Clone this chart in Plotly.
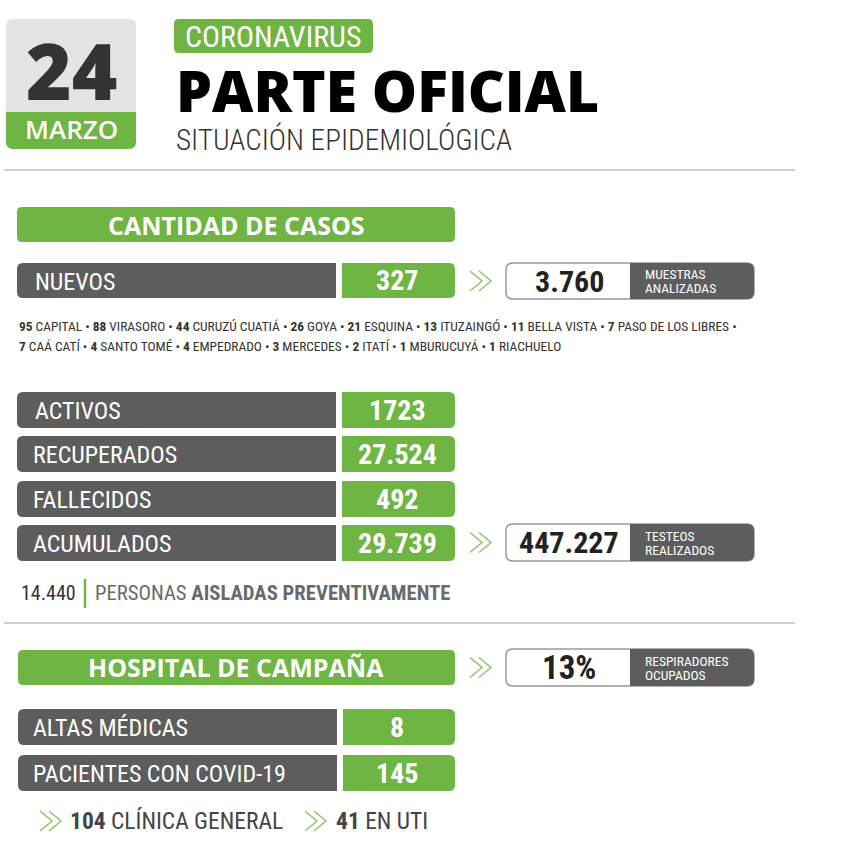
import plotly.graph_objects as go

# Daily COVID report card, drawn on an 860x860 pixel-like axis

GREEN = "#6fb543"
DARK = "#5d5d5d"
NARROW = "Roboto Condensed, Open Sans Condensed, DejaVu Sans Condensed, Roboto"

day = "24"
month = "MARZO"
tag = "CORONAVIRUS"
title = "PARTE OFICIAL"
subtitle = "SITUACIÓN EPIDEMIOLÓGICA"

cases_header = "CANTIDAD DE CASOS"
hospital_header = "HOSPITAL DE CAMPAÑA"

new_label = "NUEVOS"
new_value = "327"
samples_value = "3.760"
samples_label = ["MUESTRAS", "ANALIZADAS"]

towns_line1 = [
    ("95", "CAPITAL"), ("88", "VIRASORO"), ("44", "CURUZÚ CUATIÁ"), ("26", "GOYA"),
    ("21", "ESQUINA"), ("13", "ITUZAINGÓ"), ("11", "BELLA VISTA"), ("7", "PASO DE LOS LIBRES"),
]
towns_line2 = [
    ("7", "CAÁ CATÍ"), ("4", "SANTO TOMÉ"), ("4", "EMPEDRADO"), ("3", "MERCEDES"),
    ("2", "ITATÍ"), ("1", "MBURUCUYÁ"), ("1", "RIACHUELO"),
]

stat_labels = ["ACTIVOS", "RECUPERADOS", "FALLECIDOS", "ACUMULADOS"]
stat_values = ["1723", "27.524", "492", "29.739"]
tests_value = "447.227"
tests_label = ["TESTEOS", "REALIZADOS"]

isolated_value = "14.440"
isolated_text = "PERSONAS"
isolated_bold = "AISLADAS PREVENTIVAMENTE"

respirators_value = "13%"
respirators_label = ["RESPIRADORES", "OCUPADOS"]

hospital_labels = ["ALTAS MÉDICAS", "PACIENTES CON COVID-19"]
hospital_values = ["8", "145"]

general_value = "104"
general_text = "CLÍNICA GENERAL"
uti_value = "41"
uti_text = "EN UTI"

shapes = []
notes = []


def rrect(x0, y0, x1, y1, fill, r=(5, 5, 5, 5), line=None):
    tl, tr, br, bl = r
    path = (
        f"M {x0 + tl} {y0} L {x1 - tr} {y0} Q {x1} {y0} {x1} {y0 + tr} "
        f"L {x1} {y1 - br} Q {x1} {y1} {x1 - br} {y1} "
        f"L {x0 + bl} {y1} Q {x0} {y1} {x0} {y1 - bl} "
        f"L {x0} {y0 + tl} Q {x0} {y0} {x0 + tl} {y0} Z"
    )
    shapes.append(dict(type="path", path=path, fillcolor=fill,
                       line=dict(color=line or fill, width=1.5 if line else 0)))


def text(x, y, s, size, color="#ffffff", anchor="center", font=NARROW, weight=None):
    # annotations carry about 2px of padding on the left
    if anchor == "left":
        x -= 2
    f = dict(family=font, size=size, color=color)
    if weight:
        f["weight"] = weight
    notes.append(dict(x=x, y=y, text=s, showarrow=False, xanchor=anchor,
                      yanchor="middle", align="left", font=f))


def chevrons(x, y):
    for dx in (0, 9):
        shapes.append(dict(type="path",
                           path=f"M {x + dx} {y - 10} L {x + dx + 12} {y} L {x + dx} {y + 10}",
                           line=dict(color="#8cc468", width=1.5)))


def rule(y):
    shapes.append(dict(type="line", x0=4, x1=795, y0=y, y1=y, line=dict(color="#cfcfcf", width=2)))


def stat_row(x0, y0, h, label, value, label_x, gap_x=336, green_x=342):
    rrect(x0, y0, gap_x, y0 + h, DARK, r=(6, 0, 0, 6))
    rrect(green_x, y0, 455, y0 + h, GREEN, r=(0, 6, 6, 0))
    text(label_x, y0 + h / 2 + 1, label, 24, anchor="left")
    text(397, y0 + h / 2, value, 28, weight=700)


def side_box(y0, y1, value, label, size=30):
    mid = (y0 + y1) / 2
    rrect(506, y0, 754, y1, "#ffffff", r=(7, 7, 7, 7), line="#9a9a9a")
    rrect(630, y0, 754, y1, DARK, r=(0, 7, 7, 0))
    text(569, mid, value, size, color="#222222", weight=700)
    text(645, mid - 7, label[0], 13.5, anchor="left")
    text(645, mid + 7, label[1], 13.5, anchor="left")
    chevrons(470, mid)


def towns(items):
    return " • ".join(f"<b>{n}</b> {name}" for n, name in items)


# header
rrect(6, 19, 136, 116, "#e4e4e4", r=(7, 7, 0, 0))
rrect(6, 112, 136, 149, GREEN, r=(0, 0, 7, 7))
text(71, 70, day, 78, color="#333333", font="Open Sans", weight=800)
text(71, 129, month, 26, font="Open Sans", weight=600)
rrect(174, 19, 373, 53, GREEN)
text(273, 36, tag, 30)
text(176, 90, title, 57, color="#000000", anchor="left", font="Open Sans", weight=800)
text(176, 139, subtitle, 29.2, color="#333333", anchor="left", weight=300)
rule(170)

# cases
rrect(17, 207, 455, 242, GREEN)
text(236, 225, cases_header, 25, font="Open Sans", weight=700)
stat_row(17, 263, 35, new_label, new_value, 35)
side_box(263, 299, samples_value, samples_label)
text(19, 326, towns(towns_line1) + " •", 13.4, color="#333333", anchor="left")
text(19, 346, towns(towns_line2), 13.4, color="#333333", anchor="left")

row_tops = [392, 436, 481, 525]
label_xs = [35, 33, 33, 33]
for top, lab, val, lx in zip(row_tops, stat_labels, stat_values, label_xs):
    stat_row(17, top, 36, lab, val, lx)
side_box(524, 561, tests_value, tests_label)

text(21, 593, isolated_value, 20, color="#333333", anchor="left")
shapes.append(dict(type="line", x0=85, x1=85, y0=579, y1=608, line=dict(color=GREEN, width=2.5)))
text(95, 593, f"{isolated_text} <b>{isolated_bold}</b>", 20.7, color="#6a6a6a", anchor="left")
rule(623)

# hospital
rrect(18, 650, 455, 685, GREEN)
text(236, 667, hospital_header, 25, font="Open Sans", weight=700)
side_box(649, 686, respirators_value, respirators_label, size=33)
hospital_tops = [709, 755]
for top, lab, val in zip(hospital_tops, hospital_labels, hospital_values):
    stat_row(18, top, 36, lab, val, 33, gap_x=337, green_x=343)

chevrons(40, 821)
text(70, 821, f"<b>{general_value}</b> {general_text}", 23.5, color="#444444", anchor="left")
chevrons(305, 821)
text(336, 821, f"<b>{uti_value}</b> {uti_text}", 23.5, color="#444444", anchor="left")

fig = go.Figure()
fig.update_layout(
    width=860,
    height=860,
    margin=dict(l=0, r=0, t=0, b=0),
    paper_bgcolor="#ffffff",
    plot_bgcolor="#ffffff",
    xaxis=dict(range=[0, 860], visible=False, fixedrange=True),
    yaxis=dict(range=[860, 0], visible=False, fixedrange=True),
    shapes=shapes,
    annotations=notes,
    showlegend=False,
)
# drop the browser's default body margin so the card starts at the window corner
fig.write_html("out.html", config=dict(displayModeBar=False),
               post_script="document.body.style.margin = '0';")
